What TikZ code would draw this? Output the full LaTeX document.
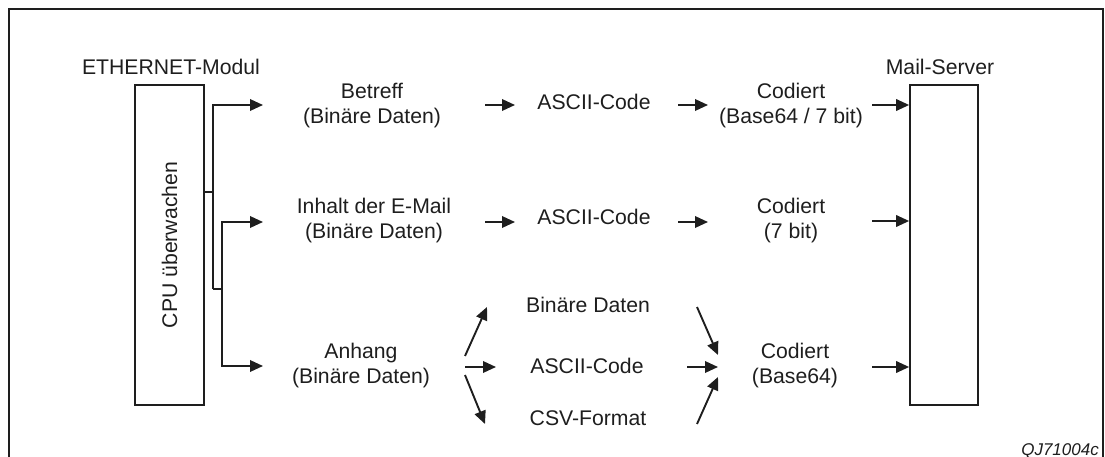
\documentclass[tikz,border=0pt]{standalone}
\usepackage{fontspec}
\setmainfont{Liberation Sans}
\usetikzlibrary{arrows.meta}
\definecolor{ink}{HTML}{1E1E1E}
\begin{document}
\begin{tikzpicture}[x=1pt,y=-1pt,
  lbl/.style={font=\fontsize{21.2}{25}\selectfont, align=center, inner sep=0pt, text=ink},
  blk/.style={draw=ink, line width=1.7pt, inner sep=0pt},
  wire/.style={draw=ink, line width=1.9pt},
  arr/.style={draw=ink, line width=1.9pt, -{Triangle[length=13pt,width=11.5pt]}},
  frm/.style={draw=ink, line width=1.3pt}]
\useasboundingbox (0,0) rectangle (1105,457);

% open frame
\draw[frm] (9,457) -- (9,9) -- (1103,9) -- (1103,457);

% the two end blocks
\node[blk, minimum width=69pt, minimum height=320pt] (cpu) at (169.5,245) {};
\node[lbl, rotate=90] (cputxt) at (cpu.center) {CPU überwachen};
\node[lbl] (ether) at (171,67) {ETHERNET-Modul};
\node[blk, minimum width=68pt, minimum height=320pt] (mail) at (944,245) {};
\node[lbl] (mailtxt) at (940,67) {Mail-Server};

% message parts
\node[lbl] (betreff) at (372,105.5) {Betreff\\(Binäre Daten)};
\node[lbl] (inhalt) at (374,221) {Inhalt der E-Mail\\(Binäre Daten)};
\node[lbl] (anhang) at (361,366) {Anhang\\(Binäre Daten)};

\node[lbl] (asc1) at (594,101.5) {ASCII-Code};
\node[lbl] (asc2) at (594,217) {ASCII-Code};
\node[lbl] (bin3) at (588,305) {Binäre Daten};
\node[lbl] (asc3) at (587,366) {ASCII-Code};
\node[lbl] (csv3) at (588,418) {CSV-Format};

\node[lbl] (cod1) at (791,105.5) {Codiert\\(Base64 / 7 bit)};
\node[lbl] (cod2) at (791,221) {Codiert\\(7 bit)};
\node[lbl] (cod3) at (795,366) {Codiert\\(Base64)};

\node[font=\fontsize{17}{20}\selectfont\itshape, text=ink, inner sep=0pt, anchor=base east] (code) at (1099,455.5) {QJ71004c};

% branching from the CPU block
\coordinate (sp) at (213,192);
\coordinate (jA) at (213,289);
\coordinate (jB) at (222,289);
\coordinate (t1) at (263,105);
\coordinate (t2) at (263,222);
\coordinate (t3) at (263,366);
\draw[wire] (cpu.east |- sp) -- (sp);
\draw[arr] (jA) |- (t1);
\draw[wire] (jA) -- (jB);
\draw[arr] (jB) |- (t2);
\draw[arr] (jB) |- (t3);

% row 1
\coordinate (r1a) at (485,105); \coordinate (r1b) at (515,105);
\coordinate (r1c) at (678,105); \coordinate (r1d) at (708,105);
\coordinate (r1e) at (872,105);
\draw[arr] (r1a) -- (r1b);
\draw[arr] (r1c) -- (r1d);
\draw[arr] (r1e) -- (mail.west |- r1e);

% row 2
\coordinate (r2a) at (485,222); \coordinate (r2b) at (515,222);
\coordinate (r2c) at (678,222); \coordinate (r2d) at (708,222);
\coordinate (r2e) at (872,221);
\draw[arr] (r2a) -- (r2b);
\draw[arr] (r2c) -- (r2d);
\draw[arr] (r2e) -- (mail.west |- r2e);

% row 3: fan out and fan in
\coordinate (f0) at (465,356); \coordinate (f1) at (487,307);
\coordinate (g0) at (465,367); \coordinate (g1) at (496,367);
\coordinate (h0) at (465,375); \coordinate (h1) at (485,424);
\draw[arr] (f0) -- (f1);
\draw[arr] (g0) -- (g1);
\draw[arr] (h0) -- (h1);
\coordinate (k0) at (697,307); \coordinate (k1) at (718,355);
\coordinate (m0) at (687,367); \coordinate (m1) at (718,367);
\coordinate (n0) at (697,424); \coordinate (n1) at (718,377);
\draw[arr] (k0) -- (k1);
\draw[arr] (m0) -- (m1);
\draw[arr] (n0) -- (n1);
\coordinate (r3e) at (872,367);
\draw[arr] (r3e) -- (mail.west |- r3e);
\end{tikzpicture}
\end{document}
